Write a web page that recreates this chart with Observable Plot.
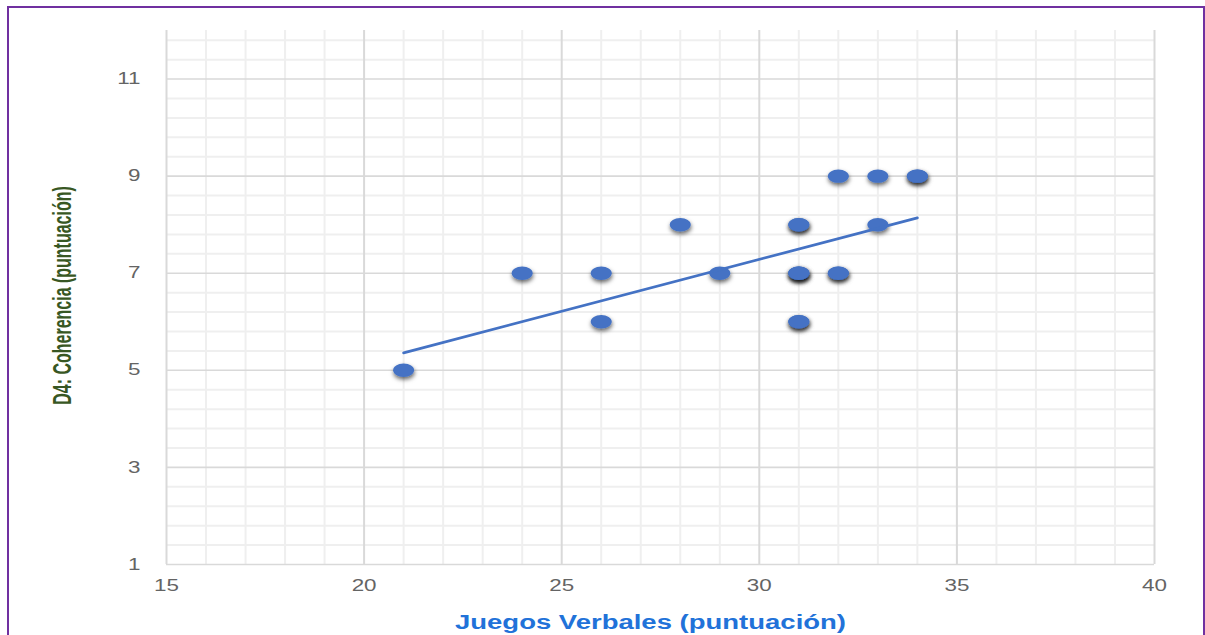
<!DOCTYPE html>
<html>
<head>
<meta charset="utf-8">
<script src="https://cdn.jsdelivr.net/npm/d3@7"></script>
<script src="https://cdn.jsdelivr.net/npm/@observablehq/plot@0.6"></script>
<style>
  html, body { margin: 0; padding: 0; background: #fff; }
  #wrap { position: relative; width: 1205px; height: 635px; overflow: hidden; background: #fff; }
  #frame { position: absolute; left: 7px; top: 6px; width: 1198px; height: 720px; box-sizing: border-box;
           border: 2px solid #7030a0; }
  #chart { position: absolute; left: 0; top: 0; }
</style>
</head>
<body>
<div id="wrap"><div id="frame"></div><div id="chart"></div></div>
<script>
// ---- data ----
const juegosVerbales = [21, 24, 26, 26, 28, 29, 31, 31, 31, 31, 31, 31, 31, 32, 32, 32, 33, 33, 34, 34];
const coherencia     = [ 5,  7,  7,  6,  8,  7,  8,  8,  7,  7,  7,  6,  6,  9,  7,  7,  9,  8,  9,  9];
const trendX = [21, 34];
const trendY = [5.36, 8.14];
const xTicks = [15, 20, 25, 30, 35, 40];
const yTicks = [1, 3, 5, 7, 9, 11];
const xMinor = d3.range(15, 41, 1).filter(v => v % 5 !== 0);
const yMinor = d3.range(0, 28).map(i => +(1 + i * 0.4).toFixed(1)).filter(v => v < 12 && !yTicks.includes(v));
const xTitle = "Juegos Verbales (puntuación)";
const yTitle = "D4: Coherencia (puntuación)";

const points = juegosVerbales.map((x, i) => ({x, y: coherencia[i]}));
const trend = trendX.map((x, i) => ({x, y: trendY[i]}));

const ellipse = {
  draw(ctx, size) {
    const r = Math.sqrt(size / Math.PI), rx = r, ry = r * 0.64, k = 0.5523;
    ctx.moveTo(rx, 0);
    ctx.bezierCurveTo(rx, ry * k, rx * k, ry, 0, ry);
    ctx.bezierCurveTo(-rx * k, ry, -rx, ry * k, -rx, 0);
    ctx.bezierCurveTo(-rx, -ry * k, -rx * k, -ry, 0, -ry);
    ctx.bezierCurveTo(rx * k, -ry, rx, -ry * k, rx, 0);
    ctx.closePath();
  }
};

const chart = Plot.plot({
  width: 1205,
  height: 635,
  marginLeft: 166,
  marginRight: 51,
  marginTop: 30,
  marginBottom: 71,
  x: {domain: [15, 40]},
  y: {domain: [1, 12]},
  style: {background: "transparent", fontFamily: "'Liberation Sans', Arial, sans-serif", color: "#5f5f5f"},
  marks: [
    Plot.ruleX(xMinor, {stroke: "#efefef", strokeWidth: 2}),
    Plot.ruleY(yMinor, {stroke: "#efefef", strokeWidth: 2}),
    Plot.ruleX(xTicks, {stroke: "#d9d9d9", strokeWidth: 2}),
    Plot.ruleY(yTicks, {stroke: "#d9d9d9", strokeWidth: 1.6}),
    Plot.axisX({ticks: xTicks, tickSize: 0, tickPadding: 15, label: null, fontSize: 16, fill: "#646464"}),
    Plot.axisY({ticks: yTicks, tickSize: 0, tickPadding: 26, label: null, fontSize: 16, fill: "#646464"}),
    Plot.dot(points, {x: "x", y: "y", symbol: ellipse, r: 10.5, fill: "#4472c4", stroke: "none"}),
    Plot.line(trend, {x: "x", y: "y", stroke: "#4472c4", strokeWidth: 2.7}),
    Plot.text([xTitle], {text: d => d, frameAnchor: "bottom", dx: -10, dy: 58, lineAnchor: "middle",
      textAnchor: "middle", fontSize: 19.5, fontWeight: "bold", fill: "#2172d9"}),
    Plot.text([yTitle], {text: d => d, frameAnchor: "left", dx: -104, dy: -2, rotate: -90, lineAnchor: "middle",
      textAnchor: "middle", fontSize: 16, fontWeight: "bold", fill: "#385723"})
  ]
});

// shadow filter for dots
const ns = "http://www.w3.org/2000/svg";
const defs = document.createElementNS(ns, "defs");
defs.innerHTML = '<filter id="sh" x="-50%" y="-50%" width="200%" height="250%">' +
  '<feDropShadow dx="0.5" dy="2.5" stdDeviation="2" flood-color="#000" flood-opacity="0.6"/></filter>';
chart.insertBefore(defs, chart.firstChild);
chart.querySelectorAll('g[aria-label="dot"] path').forEach(p => p.setAttribute("filter", "url(#sh)"));

// horizontal stretch of the original picture: scale each text around its own anchor
function stretchText(t, s) {
  let tr = t.getAttribute("transform") || "";
  if (!/translate/.test(tr)) {
    const x = parseFloat(t.getAttribute("x")), y = parseFloat(t.getAttribute("y"));
    const ux = /^[\d.\-]+$/.test(t.getAttribute("x") || "") ? x : 0;
    const uy = /^[\d.\-]+$/.test(t.getAttribute("y") || "") ? y : 0;
    if (ux || uy) {
      if (ux) t.removeAttribute("x");
      if (uy) t.removeAttribute("y");
      tr = `translate(${ux},${uy}) ` + tr;
    }
  }
  t.setAttribute("transform", `${tr} ${s}`.trim());
}
chart.querySelectorAll("text").forEach(t => {
  const s = t.textContent;
  if (s === xTitle) stretchText(t, "scale(1.41,1)");
  else if (s === yTitle) stretchText(t, "scale(1,1.65)");
  else if (/^\d+$/.test(s)) stretchText(t, "scale(1.4,1)");
});

document.getElementById("chart").appendChild(chart);
</script>
</body>
</html>
